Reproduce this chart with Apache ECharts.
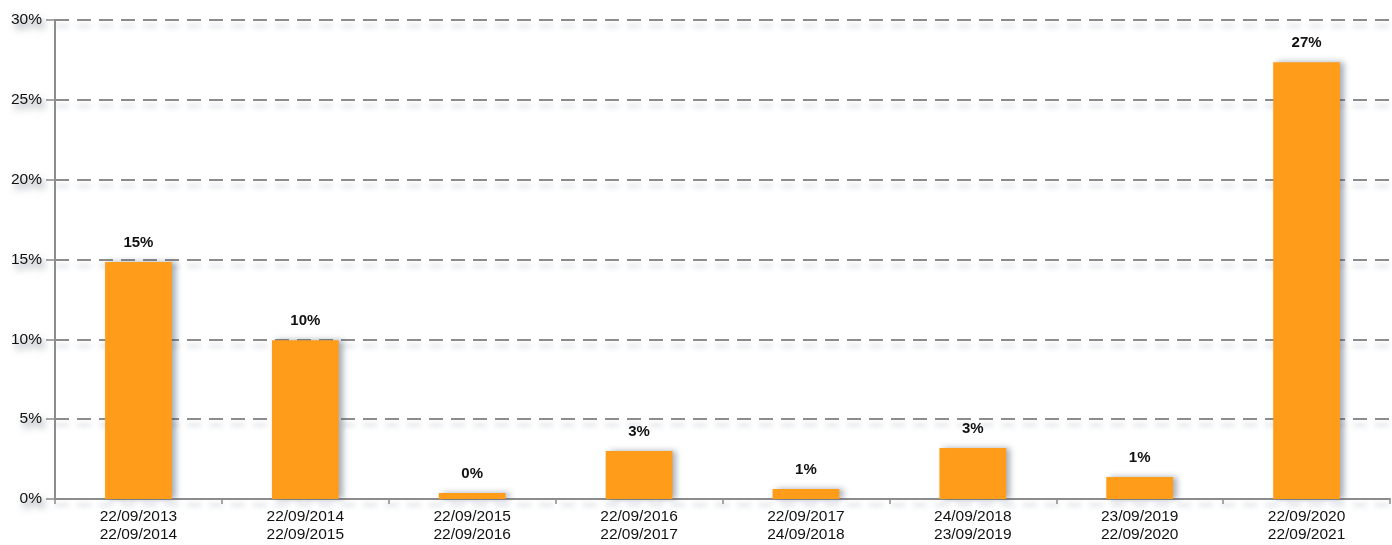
<!DOCTYPE html>
<html>
<head>
<meta charset="utf-8">
<script src="https://cdn.jsdelivr.net/npm/echarts@6/dist/echarts.min.js"></script>
<style>
  html, body { margin: 0; padding: 0; background: #fff; }
  #chart { width: 1392px; height: 545px; }
</style>
</head>
<body>
<div id="chart"></div>
<script>
// 区间（起止日期）
const periods = [
  '22/09/2013\n22/09/2014',
  '22/09/2014\n22/09/2015',
  '22/09/2015\n22/09/2016',
  '22/09/2016\n22/09/2017',
  '22/09/2017\n24/09/2018',
  '24/09/2018\n23/09/2019',
  '23/09/2019\n22/09/2020',
  '22/09/2020\n22/09/2021'
]
// 收益率 (%)
const returns = [14.85, 9.95, 0.38, 3.0, 0.63, 3.2, 1.38, 27.35]
// y轴刻度
const yMin = 0
const yMax = 30
const yStep = 5

const chart = echarts.init(document.getElementById('chart'))
const option = {
  animation: false,
  grid: { left: 55, right: 2, top: 20, bottom: 46 },
  xAxis: {
    type: 'category',
    data: periods,
    axisLine: { lineStyle: { color: '#8c8c8c', width: 2 } },
    axisTick: { show: true, length: 5, lineStyle: { color: '#8c8c8c', width: 1.5 } },
    axisLabel: {
      color: '#111',
      fontFamily: 'Liberation Sans, Arial, sans-serif',
      fontSize: 15.5,
      lineHeight: 18,
      margin: 9
    }
  },
  yAxis: {
    type: 'value',
    min: yMin,
    max: yMax,
    interval: yStep,
    axisLine: { show: true, lineStyle: { color: '#8c8c8c', width: 2 } },
    axisTick: { show: true, length: 9, lineStyle: { color: '#8c8c8c', width: 1.5 } },
    axisLabel: {
      formatter: '{value}%',
      color: '#111',
      fontFamily: 'Liberation Sans, Arial, sans-serif',
      fontSize: 15.5,
      margin: 13,
      textShadowColor: 'rgba(40,50,70,0.6)',
      textShadowBlur: 7,
      textShadowOffsetX: 3,
      textShadowOffsetY: 5
    },
    splitLine: {
      show: true,
      lineStyle: {
        color: '#8c8c8c',
        width: 2,
        type: [14, 8],
        shadowColor: 'rgba(60,80,110,0.25)',
        shadowBlur: 5,
        shadowOffsetY: 6
      }
    }
  },
  series: [
    {
      type: 'bar',
      data: returns,
      barCategoryGap: '60%',
      itemStyle: {
        color: '#ff9d1b',
        shadowColor: 'rgba(60,75,100,0.45)',
        shadowBlur: 6,
        shadowOffsetX: 4,
        shadowOffsetY: 0
      },
      label: {
        show: true,
        position: 'top',
        distance: 12,
        color: '#111',
        fontWeight: 'bold',
        fontFamily: 'Liberation Sans, Arial, sans-serif',
        fontSize: 15,
        formatter: (p) => Math.round(p.value) + '%'
      }
    }
  ]
}
chart.setOption(option)
</script>
</body>
</html>
